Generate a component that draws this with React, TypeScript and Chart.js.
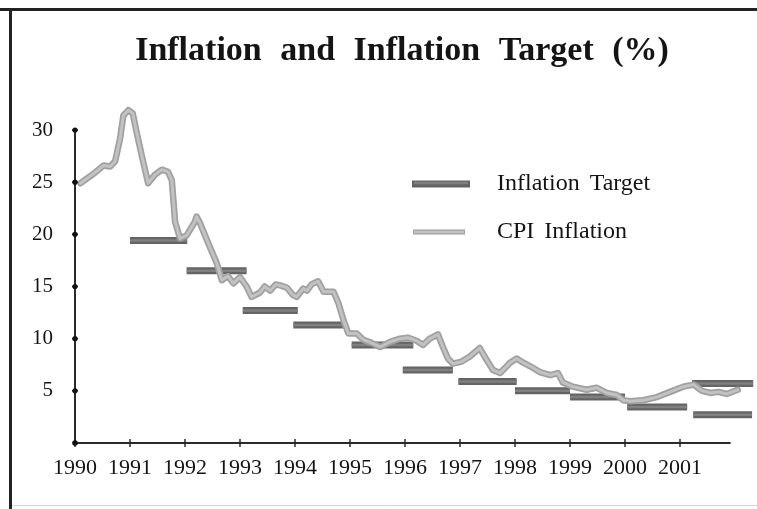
import React, { useEffect, useRef } from "react";
import { Chart, registerables } from "chart.js";

Chart.register(...registerables);

const TITLE = "Inflation and Inflation Target (%)";
const SERIES_TARGET = "Inflation Target";
const SERIES_CPI = "CPI Inflation";

const xTickYears = [1990, 1991, 1992, 1993, 1994, 1995, 1996, 1997, 1998, 1999, 2000, 2001];
const yTickValues = [5, 10, 15, 20, 25, 30];

const cpiYears = [
  1990.1, 1990.36, 1990.52, 1990.64, 1990.73, 1990.82, 1990.88, 1990.97, 1991.05, 1991.12,
  1991.22, 1991.33, 1991.45, 1991.58, 1991.69, 1991.76, 1991.82, 1991.91, 1992.03, 1992.18,
  1992.21, 1992.27, 1992.45, 1992.58, 1992.67, 1992.78, 1992.88, 1993.0, 1993.12, 1993.21,
  1993.36, 1993.45, 1993.55, 1993.65, 1993.73, 1993.85, 1993.96, 1994.03, 1994.15, 1994.22,
  1994.3, 1994.42, 1994.52, 1994.7, 1994.79, 1994.88, 1994.97, 1995.12, 1995.24, 1995.39,
  1995.55, 1995.73, 1995.91, 1996.05, 1996.21, 1996.33, 1996.45, 1996.6, 1996.69, 1996.78,
  1996.87, 1997.03, 1997.18, 1997.36, 1997.48, 1997.6, 1997.73, 1997.91, 1998.03, 1998.15,
  1998.33, 1998.45, 1998.64, 1998.78, 1998.87, 1999.05, 1999.3, 1999.48, 1999.67, 1999.85,
  1999.97, 2000.09, 2000.33, 2000.58, 2000.82, 2001.06, 2001.25, 2001.4, 2001.55, 2001.7,
  2001.85, 2002.05,
];
const cpiValues = [
  24.9, 25.9, 26.6, 26.5, 27.0, 29.2, 31.4, 31.9, 31.6, 29.8,
  27.4, 24.9, 25.7, 26.2, 26.0, 25.2, 21.2, 19.6, 19.9, 21.2,
  21.7, 21.1, 18.8, 17.2, 15.6, 16.0, 15.3, 15.9, 15.0, 14.0,
  14.4, 15.0, 14.6, 15.2, 15.1, 14.9, 14.2, 14.0, 14.8, 14.6,
  15.2, 15.5, 14.5, 14.5, 13.4, 11.8, 10.5, 10.5, 9.9, 9.6,
  9.2, 9.7, 10.0, 10.1, 9.8, 9.4, 10.0, 10.4, 9.2, 8.1,
  7.6, 7.8, 8.3, 9.1, 8.0, 7.0, 6.7, 7.7, 8.1, 7.7,
  7.2, 6.8, 6.5, 6.7, 5.8, 5.4, 5.1, 5.3, 4.8, 4.6,
  4.1, 4.0, 4.1, 4.4, 4.9, 5.4, 5.6, 5.0, 4.8, 4.9,
  4.7, 5.1,
];

const targetStart = [1991.0, 1992.03, 1993.05, 1993.97, 1995.03, 1995.96, 1996.97, 1998.0, 1999.0, 2000.04, 2001.24, 2001.22];
const targetEnd = [1992.04, 1993.12, 1994.05, 1994.87, 1996.15, 1996.87, 1998.03, 1999.0, 2000.0, 2001.13, 2002.31, 2002.33];
const targetValues = [19.4, 16.5, 12.7, 11.3, 9.4, 7.0, 5.9, 5.0, 4.4, 3.45, 2.7, 5.7];

const X_MIN = 1990;
const X_MAX = 2002.4;
const X_AXIS_END = 2001.92;
const Y_MIN = 0;
const Y_MAX = 33;
const Y_AXIS_END = 30;

const SERIF = "'Liberation Serif', 'DejaVu Serif', serif";
const INK = "#141414";
const TARGET_DARK = "#646464";
const TARGET_CORE = "#808080";
const CPI_EDGE = "#a0a0a0";
const CPI_CORE = "#c2c2c2";

const cpiData = cpiYears.map((x, i) => ({ x, y: cpiValues[i] }));
const targetData: { x: number; y: number | null }[] = [];
targetValues.forEach((v, i) => {
  targetData.push({ x: targetStart[i], y: v });
  targetData.push({ x: targetEnd[i], y: v });
  targetData.push({ x: targetEnd[i], y: null });
});

const framePlugin = {
  id: "frame",
  beforeDraw(chart: any) {
    const { ctx, width, height } = chart;
    ctx.save();
    ctx.fillStyle = "#ffffff";
    ctx.fillRect(0, 0, width, height);
    ctx.strokeStyle = "#222222";
    ctx.lineWidth = 3;
    ctx.beginPath();
    ctx.moveTo(0, 9.5);
    ctx.lineTo(width, 9.5);
    ctx.moveTo(10.5, 8);
    ctx.lineTo(10.5, height);
    ctx.stroke();
    ctx.strokeStyle = "#d4d4d4";
    ctx.lineWidth = 1;
    ctx.beginPath();
    ctx.moveTo(12, 505.5);
    ctx.lineTo(width, 505.5);
    ctx.stroke();
    ctx.restore();
  },
};

const titlePlugin = {
  id: "spacedTitle",
  afterDraw(chart: any) {
    const { ctx } = chart;
    ctx.save();
    ctx.fillStyle = INK;
    ctx.font = `bold 34px ${SERIF}`;
    try {
      (ctx as any).wordSpacing = "10px";
    } catch (e) {}
    ctx.textAlign = "center";
    ctx.textBaseline = "alphabetic";
    ctx.fillText(TITLE, 402, 60);
    ctx.restore();
  },
};

const axesPlugin = {
  id: "handAxes",
  afterDraw(chart: any) {
    const { ctx } = chart;
    const xs = chart.scales.x;
    const ys = chart.scales.y;
    const x0 = xs.getPixelForValue(X_MIN);
    const y0 = ys.getPixelForValue(Y_MIN);
    ctx.save();
    ctx.strokeStyle = "#2a2a2a";
    ctx.lineWidth = 2;
    ctx.beginPath();
    ctx.moveTo(x0, y0);
    ctx.lineTo(x0, ys.getPixelForValue(Y_AXIS_END));
    ctx.moveTo(x0, y0);
    ctx.lineTo(xs.getPixelForValue(X_AXIS_END), y0);
    ctx.stroke();
    ctx.lineWidth = 1.5;
    ctx.fillStyle = "#111";
    yTickValues.forEach((v) => {
      const py = ys.getPixelForValue(v);
      ctx.beginPath();
      ctx.moveTo(x0 - 3, py);
      ctx.lineTo(x0 + 3, py);
      ctx.stroke();
      ctx.beginPath();
      ctx.arc(x0, py, 2.6, 0, Math.PI * 2);
      ctx.fill();
    });
    xTickYears.forEach((v) => {
      const px = xs.getPixelForValue(v);
      ctx.beginPath();
      ctx.moveTo(px, y0 - 4);
      ctx.lineTo(px, y0 + 4);
      ctx.stroke();
    });
    ctx.beginPath();
    ctx.arc(x0, y0, 2.8, 0, Math.PI * 2);
    ctx.fill();
    ctx.restore();
  },
};

const legendPlugin = {
  id: "insideLegend",
  afterDraw(chart: any) {
    const { ctx } = chart;
    ctx.save();
    ctx.lineCap = "butt";
    ctx.strokeStyle = TARGET_DARK;
    ctx.lineWidth = 7;
    ctx.beginPath();
    ctx.moveTo(412, 184);
    ctx.lineTo(470, 184);
    ctx.stroke();
    ctx.strokeStyle = TARGET_CORE;
    ctx.lineWidth = 2.5;
    ctx.beginPath();
    ctx.moveTo(414, 183);
    ctx.lineTo(468, 183);
    ctx.stroke();
    ctx.strokeStyle = CPI_EDGE;
    ctx.lineWidth = 5;
    ctx.beginPath();
    ctx.moveTo(413, 232);
    ctx.lineTo(465, 232);
    ctx.stroke();
    ctx.strokeStyle = CPI_CORE;
    ctx.lineWidth = 2.5;
    ctx.beginPath();
    ctx.moveTo(414, 232);
    ctx.lineTo(464, 232);
    ctx.stroke();
    ctx.fillStyle = INK;
    ctx.font = `24px ${SERIF}`;
    try {
      (ctx as any).wordSpacing = "4px";
    } catch (e) {}
    ctx.textBaseline = "middle";
    ctx.textAlign = "left";
    ctx.fillText(SERIES_TARGET, 497, 184);
    ctx.fillText(SERIES_CPI, 497, 232);
    ctx.restore();
  },
};

export default function App() {
  const canvasRef = useRef<HTMLCanvasElement | null>(null);

  useEffect(() => {
    if (!canvasRef.current) return;
    const lineBase = { pointRadius: 0, tension: 0, clip: false as any };
    const chart = new Chart(canvasRef.current, {
      type: "line",
      data: {
        datasets: [
          {
            ...lineBase,
            label: SERIES_TARGET,
            data: targetData,
            borderColor: TARGET_DARK,
            borderWidth: 7,
            borderCapStyle: "butt",
            spanGaps: false,
            order: 4,
          },
          {
            ...lineBase,
            label: SERIES_TARGET + " core",
            data: targetData,
            borderColor: TARGET_CORE,
            borderWidth: 2.5,
            borderCapStyle: "butt",
            spanGaps: false,
            order: 3,
          },
          {
            ...lineBase,
            label: SERIES_CPI,
            data: cpiData,
            borderColor: CPI_EDGE,
            borderWidth: 6.5,
            borderJoinStyle: "round",
            borderCapStyle: "round",
            order: 2,
          },
          {
            ...lineBase,
            label: SERIES_CPI + " core",
            data: cpiData,
            borderColor: CPI_CORE,
            borderWidth: 3,
            borderJoinStyle: "round",
            borderCapStyle: "round",
            order: 1,
          },
        ],
      },
      options: {
        responsive: false,
        animation: false,
        layout: { padding: { left: 0, right: 0, top: 98.7, bottom: 0 } },
        plugins: {
          legend: { display: false },
          tooltip: { enabled: false },
          title: { display: false },
        },
        scales: {
          x: {
            type: "linear",
            min: X_MIN,
            max: X_MAX,
            grid: { display: false, drawTicks: false },
            border: { display: false },
            afterFit: (s: any) => {
              s.height = 66;
              s.paddingLeft = 0;
              s.paddingRight = 0;
            },
            ticks: {
              stepSize: 1,
              autoSkip: false,
              maxRotation: 0,
              padding: 12,
              color: INK,
              font: { family: SERIF, size: 22 },
              callback: (v: any) => (xTickYears.includes(Number(v)) ? String(v) : ""),
            },
          },
          y: {
            min: Y_MIN,
            max: Y_MAX,
            grid: { display: false, drawTicks: false },
            border: { display: false },
            afterFit: (s: any) => {
              s.width = 75;
              s.paddingTop = 0;
              s.paddingBottom = 0;
            },
            ticks: {
              stepSize: 5,
              padding: 22,
              color: INK,
              font: { family: SERIF, size: 21 },
              callback: (v: any) => (yTickValues.includes(Number(v)) ? String(v) : ""),
            },
          },
        },
      },
      plugins: [framePlugin, titlePlugin, axesPlugin, legendPlugin],
    });
    return () => chart.destroy();
  }, []);

  return (
    <div style={{ position: "absolute", left: 0, top: 0, width: 757, height: 509, background: "#fff" }}>
      <canvas ref={canvasRef} width={757} height={509} style={{ display: "block" }} />
    </div>
  );
}
